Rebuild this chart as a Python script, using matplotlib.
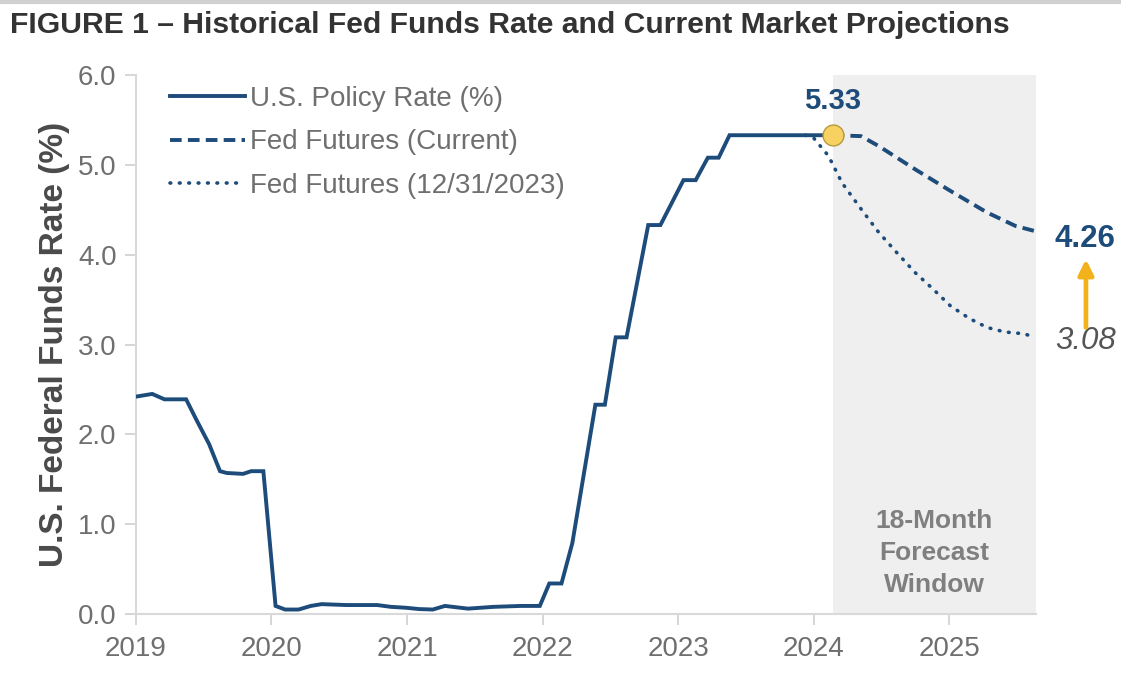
import matplotlib
matplotlib.use('Agg')
from matplotlib import pyplot as plt
from matplotlib.lines import Line2D

# effective fed funds rate (decimal years)
hist_x = [2019.00, 2019.12, 2019.21, 2019.37, 2019.45, 2019.54, 2019.62, 2019.67,
          2019.79, 2019.85, 2019.94, 2020.03, 2020.10, 2020.20, 2020.29, 2020.37,
          2020.55, 2020.78, 2020.88, 2020.99, 2021.09, 2021.19, 2021.28, 2021.45,
          2021.64, 2021.84, 2021.98, 2022.05, 2022.14, 2022.22, 2022.39, 2022.46,
          2022.54, 2022.62, 2022.78, 2022.87, 2023.04, 2023.13, 2023.22, 2023.30,
          2023.38, 2024.14]
hist_y = [2.42, 2.45, 2.39, 2.39, 2.15, 1.89, 1.59, 1.57,
          1.56, 1.59, 1.59, 0.09, 0.05, 0.05, 0.09, 0.11,
          0.10, 0.10, 0.08, 0.07, 0.055, 0.05, 0.09, 0.06,
          0.08, 0.09, 0.09, 0.34, 0.34, 0.79, 2.33, 2.33,
          3.08, 3.08, 4.33, 4.33, 4.83, 4.83, 5.08, 5.08,
          5.33, 5.33]

# fed futures, current
cur_x = [2024.14, 2024.35, 2024.48, 2024.75, 2025.01, 2025.28, 2025.49, 2025.64]
cur_y = [5.33, 5.32, 5.21, 4.95, 4.71, 4.47, 4.32, 4.26]

# fed futures as of 12/31/2023
old_x = [2023.94, 2024.00, 2024.11, 2024.21, 2024.35, 2024.48, 2024.61, 2024.75,
         2024.88, 2025.01, 2025.15, 2025.28, 2025.41, 2025.55, 2025.64]
old_y = [5.33, 5.30, 5.10, 4.80, 4.51, 4.25, 4.03, 3.80,
         3.62, 3.43, 3.29, 3.19, 3.14, 3.12, 3.08]

years = [2019, 2020, 2021, 2022, 2023, 2024, 2025]
yticks = [0, 1, 2, 3, 4, 5, 6]
window = (2024.14, 2025.64)

navy = '#1d4b7a'
gray_txt = '#6f6f6f'

plt.rcParams['font.family'] = ['Liberation Sans', 'DejaVu Sans']

fig = plt.figure(figsize=(11.21, 6.79), dpi=100)
ax = fig.add_axes([0.1213, 0.0957, 0.8027, 0.7938])

ax.axvspan(window[0], window[1], color='#efefef', lw=0, zorder=0)

ax.plot(hist_x, hist_y, color=navy, lw=2.8, solid_joinstyle='miter',
        label='U.S. Policy Rate (%)', zorder=3)
ax.plot(cur_x, cur_y, color=navy, lw=2.8, linestyle=(0, (3, 1.6)),
        label='Fed Futures (Current)', zorder=3)
ax.plot(old_x, old_y, color=navy, lw=2.6, linestyle=(0, (0.2, 2.4)),
        dash_capstyle='round', label='Fed Futures (12/31/2023)', zorder=2)

ax.plot([hist_x[-1]], [hist_y[-1]], 'o', ms=15, mfc='#f7d260', mec='#b59a3e',
        mew=1.0, zorder=5)

ax.text(hist_x[-1], 5.55, f'{hist_y[-1]:.2f}', color=navy, fontsize=21,
        fontweight='bold', ha='center', va='bottom')
ax.text(2025.78, cur_y[-1] - 0.08, f'{cur_y[-1]:.2f}', color=navy, fontsize=22.5,
        fontweight='bold', ha='left', va='center', clip_on=False)
ax.text(2025.78, old_y[-1] - 0.04, f'{old_y[-1]:.2f}', color='#555555', fontsize=22.5,
        fontstyle='italic', ha='left', va='center', clip_on=False)
ax.annotate('', xy=(2026.01, 3.98), xytext=(2026.01, 3.16),
            arrowprops=dict(arrowstyle='-|>,head_width=0.45,head_length=0.9',
                            color='#f2b21c', lw=3.4), annotation_clip=False)

ax.text(sum(window) / 2, 0.68, '18-Month\nForecast\nWindow', color='#7f7f7f',
        fontsize=19, fontweight='bold', ha='center', va='center',
        linespacing=1.4)

ax.set_xlim(2019, 2025.64)
ax.set_ylim(0, 6)
ax.set_xticks(years)
ax.set_xticklabels([str(y) for y in years])
ax.set_yticks(yticks)
ax.set_yticklabels([f'{v:.1f}' for v in yticks])
ax.tick_params(axis='both', colors='#d0d0d0', labelcolor=gray_txt,
               labelsize=20, length=8, width=1.2)
ax.tick_params(axis='x', pad=8)
ax.tick_params(axis='y', pad=6)
for s in ['top', 'right']:
    ax.spines[s].set_visible(False)
for s in ['left', 'bottom']:
    ax.spines[s].set_color('#d9d9d9')
    ax.spines[s].set_linewidth(1.5)

ax.set_ylabel('U.S. Federal Funds Rate (%)', fontsize=24, fontweight='bold',
              color='#4a4a4a', labelpad=6)

leg = ax.legend(loc='upper left', bbox_to_anchor=(0.025, 1.0), frameon=False,
                fontsize=20, handlelength=2.7, handletextpad=0.2,
                labelspacing=0.62, borderaxespad=0)
for t in leg.get_texts():
    t.set_color(gray_txt)

fig.text(0.009, 0.963, 'FIGURE 1 \u2013 Historical Fed Funds Rate and Current Market Projections',
         fontsize=21.7, fontweight='bold', color='#333333', ha='left', va='center')
fig.add_artist(Line2D([0, 1], [0.997, 0.997], transform=fig.transFigure,
                      color='#d0d0d0', lw=3))

fig.savefig('out.png', dpi=100)
